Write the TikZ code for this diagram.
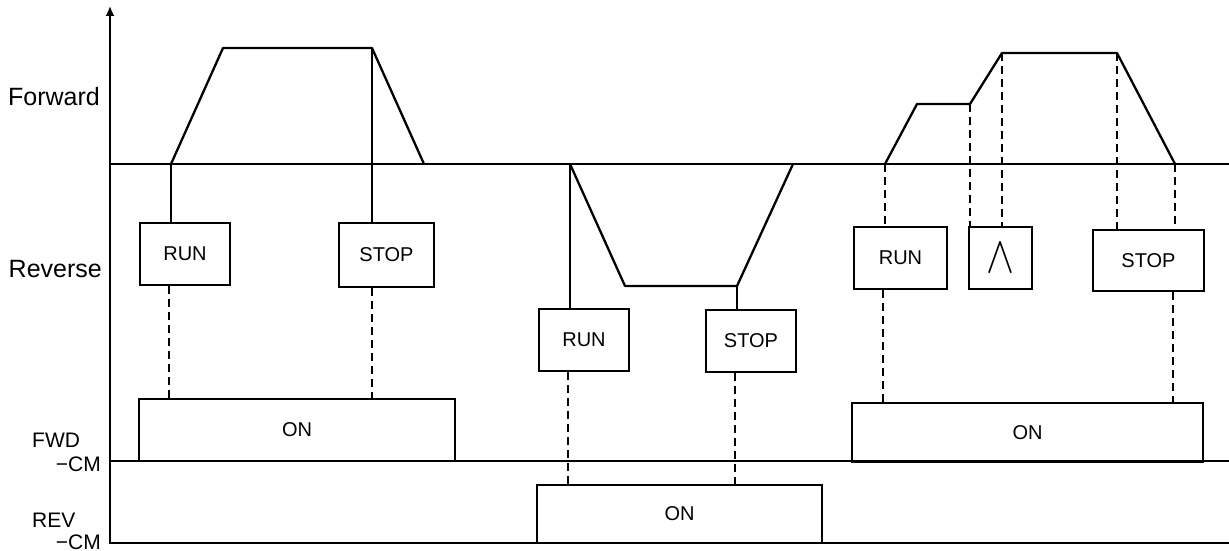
\documentclass[tikz,border=0pt]{standalone}
\usepackage{fontspec}
\setmainfont{Liberation Sans}
\usetikzlibrary{arrows.meta}
\begin{document}
\begin{tikzpicture}[x=1pt,y=-1pt,
  wave/.style={line width=2.3pt, line join=round},
  baseln/.style={line width=2.3pt},
  boxn/.style={draw, line width=2pt, inner sep=0pt, font=\fontsize{20}{20}\selectfont},
  solidc/.style={line width=1.6pt},
  dsh/.style={line width=2pt, dash pattern=on 8pt off 5pt},
  lbl/.style={font=\fontsize{25}{25}\selectfont, inner sep=0pt},
  sig/.style={font=\fontsize{21}{21}\selectfont, inner sep=0pt}]
\useasboundingbox (0,0) rectangle (1229,551);

% axis
\coordinate (axbot) at (110,544);
\coordinate (axtop) at (110,6);
\draw[line width=1.8pt, -{Latex[length=10pt,width=9pt]}] (axbot) -- (axtop);

% baselines
\coordinate (fb0) at (110,164); \coordinate (fb1) at (1229,164);
\coordinate (wb0) at (110,461); \coordinate (wb1) at (1229,461);
\coordinate (rb0) at (110,543); \coordinate (rb1) at (1229,543);
\draw[baseln] (fb0) -- (fb1);
\draw[baseln] (wb0) -- (wb1);
\draw[baseln] (rb0) -- (rb1);

% labels
\node[lbl, anchor=base west] (lfwd) at (8,106) {Forward};
\node[lbl, anchor=base east] (lrev) at (102,277) {Reverse};
\node[sig, anchor=base west] (lfw) at (32,447) {FWD};
\node[sig, anchor=base east] (lfc) at (101,471) {−CM};
\node[sig, anchor=base west] (lrv) at (32,527) {REV};
\node[sig, anchor=base east] (lrc) at (101,549) {−CM};

% waveform 1 (forward)
\coordinate (a0) at (171,164); \coordinate (a1) at (223,48);
\coordinate (a2) at (372,48);  \coordinate (a3) at (424,164);
\draw[wave] (a0) -- (a1) -- (a2) -- (a3);

% waveform 2 (reverse)
\coordinate (b0) at (570,164); \coordinate (b1) at (625,286);
\coordinate (b2) at (737,286); \coordinate (b3) at (793,164);
\draw[wave] (b0) -- (b1) -- (b2) -- (b3);

% waveform 3 (forward, two speeds)
\coordinate (c0) at (885,164); \coordinate (c1) at (917,104);
\coordinate (c2) at (970,104); \coordinate (c3) at (1002,53);
\coordinate (c4) at (1117,53); \coordinate (c5) at (1175,164);
\draw[wave] (c0) -- (c1) -- (c2) -- (c3) -- (c4) -- (c5);

% key boxes
\node[boxn, minimum width=90pt, minimum height=62pt] (run1) at (185,254) {RUN};
\node[boxn, minimum width=95pt, minimum height=64pt] (stop1) at (386.5,255) {STOP};
\node[boxn, minimum width=90pt, minimum height=62pt] (run2) at (584,340) {RUN};
\node[boxn, minimum width=90pt, minimum height=62pt] (stop2) at (751,341) {STOP};
\node[boxn, minimum width=93pt, minimum height=62pt] (run3) at (900.5,258) {RUN};
\node[boxn, minimum width=63pt, minimum height=62pt] (caret) at (1000.5,258)
  {\resizebox{28pt}{29pt}{$\wedge$}};
\node[boxn, minimum width=111pt, minimum height=61pt] (stop3) at (1148.5,260.5) {STOP};

% ON boxes
\node[boxn, minimum width=316pt, minimum height=62pt] (on1) at (297,430) {ON};
\node[boxn, minimum width=285pt, minimum height=58pt] (on2) at (679.5,514) {ON};
\node[boxn, minimum width=351pt, minimum height=59pt] (on3) at (1027.5,432.5) {ON};

% connectors: waveform -> key
\draw[solidc] (a0) -- (a0 |- run1.north);
\draw[solidc] (a2) -- (a2 |- stop1.north);
\draw[solidc] (b0) -- (b0 |- run2.north);
\draw[solidc] (b2) -- (b2 |- stop2.north);
\draw[dsh] (c0) -- (c0 |- run3.north);
\draw[dsh] (c2) -- (c2 |- caret.north);
\draw[dsh] (c3) -- (c3 |- caret.north);
\draw[dsh] (c4) -- (c4 |- stop3.north);
\draw[dsh] (c5) -- (c5 |- stop3.north);

% connectors: key -> ON
\coordinate (d1) at (169,0); \coordinate (d2) at (372,0);
\coordinate (d3) at (568,0); \coordinate (d4) at (735,0);
\coordinate (d5) at (883,0); \coordinate (d6) at (1173,0);
\draw[dsh] (run1.south -| d1) -- (on1.north -| d1);
\draw[dsh] (stop1.south -| d2) -- (on1.north -| d2);
\draw[dsh] (run2.south -| d3) -- (on2.north -| d3);
\draw[dsh] (stop2.south -| d4) -- (on2.north -| d4);
\draw[dsh] (run3.south -| d5) -- (on3.north -| d5);
\draw[dsh] (stop3.south -| d6) -- (on3.north -| d6);
\end{tikzpicture}
\end{document}
